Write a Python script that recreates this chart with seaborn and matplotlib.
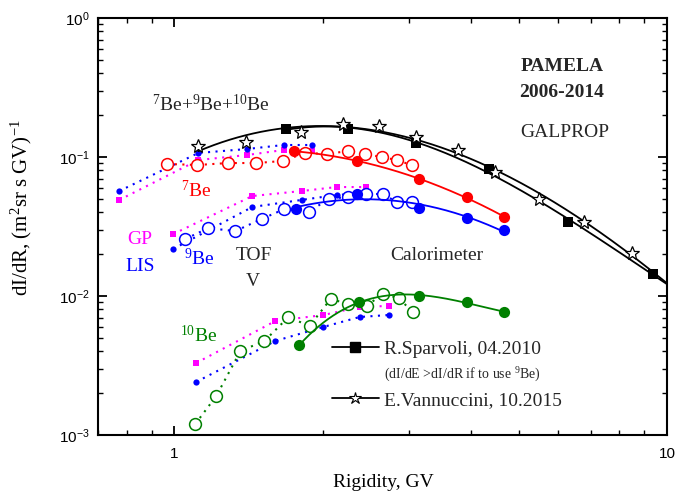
import numpy as np
import matplotlib
matplotlib.use("Agg")
import matplotlib.pyplot as plt
import seaborn as sns
from matplotlib.lines import Line2D
from matplotlib.ticker import LogLocator, NullFormatter, LogFormatterSciNotation

# ---------------- data ----------------
# Total Be flux, two PAMELA analyses
sparvoli_R = [1.689, 2.256, 3.088, 4.346, 6.293, 9.366]
sparvoli_F = [0.159, 0.159, 0.126, 0.0820, 0.0341, 0.0144]
vannuccini_R = [1.119, 1.401, 1.804, 2.195, 2.598, 3.088, 3.760, 4.471, 5.493, 6.783, 8.490]
vannuccini_F = [0.120, 0.128, 0.151, 0.173, 0.167, 0.139, 0.112, 0.078, 0.0499, 0.0341, 0.0204]

# TOF isotope fluxes (open circles)
be7_tof_R = [0.968, 1.114, 1.287, 1.468, 1.658, 1.846, 2.046, 2.247, 2.434, 2.635, 2.827, 3.031]
be7_tof_F = [0.0891, 0.0876, 0.0905, 0.0905, 0.0936, 0.1069, 0.1051, 0.1104, 0.1051, 0.100, 0.0951, 0.0876]
be9_tof_R = [1.053, 1.172, 1.330, 1.503, 1.673, 1.873, 2.056, 2.247, 2.445, 2.647, 2.827, 3.031]
be9_tof_F = [0.0257, 0.0308, 0.0293, 0.0358, 0.0422, 0.0402, 0.0499, 0.0516, 0.0542, 0.0542, 0.0475, 0.0475]
be10_tof_R = [1.103, 1.217, 1.362, 1.524, 1.705, 1.881, 2.076, 2.256, 2.456, 2.647, 2.853, 3.046]
be10_tof_F = [0.00120, 0.00191, 0.00402, 0.00475, 0.00706, 0.00608, 0.00951, 0.00876, 0.00848, 0.01034, 0.00967, 0.00767]

# Calorimeter isotope fluxes (filled circles)
be7_cal_R = [1.746, 2.344, 3.132, 3.922, 4.665]
be7_cal_F = [0.1104, 0.0936, 0.0695, 0.0516, 0.0370]
be9_cal_R = [1.770, 2.344, 3.132, 3.922, 4.665]
be9_cal_F = [0.0422, 0.0542, 0.0430, 0.0364, 0.0298]
be10_cal_R = [1.795, 2.366, 3.132, 3.922, 4.665]
be10_cal_F = [0.00444, 0.00905, 0.0100, 0.00905, 0.00767]

# GALPROP modulated (GP) and local interstellar (LIS) spectra
be7_gp_R = [0.773, 1.119, 1.407, 1.666, 1.899]
be7_gp_F = [0.0491, 0.0951, 0.1034, 0.1123, 0.1104]
be7_lis_F = [0.0569, 0.1069, 0.1142, 0.1220, 0.1220]
be9_gp_R = [0.995, 1.440, 1.812, 2.134, 2.445]
be9_gp_F = [0.0279, 0.0524, 0.0569, 0.0608, 0.0608]
be9_lis_F = [0.0218, 0.0437, 0.0491, 0.0533, 0.0551]
be10_gp_R = [1.108, 1.604, 2.008, 2.377, 2.723]
be10_gp_F = [0.00330, 0.00661, 0.00730, 0.00834, 0.00848]
be10_lis_F = [0.00241, 0.00475, 0.00599, 0.00706, 0.00730]

x_ticks = [1, 10]
x_ticklabels = ["1", "10"]

RED, BLUE, GREEN, MAG, BLACK = "#ff0000", "#0000ff", "#008000", "#ff00ff", "#000000"

# ---------------- style ----------------
sns.set_theme(style="ticks")
plt.rcParams["font.family"] = ["Liberation Serif", "DejaVu Serif"]
plt.rcParams["mathtext.fontset"] = "custom"
plt.rcParams["mathtext.rm"] = "Liberation Serif"
plt.rcParams["mathtext.it"] = "Liberation Serif:italic"
plt.rcParams["mathtext.bf"] = "Liberation Serif:bold"
plt.rcParams["axes.linewidth"] = 1.5

fig = plt.figure(figsize=(6.77, 4.95), dpi=100)
ax = fig.add_axes([98 / 677, 60 / 495, 569 / 677, 417 / 495])
ax.set_xscale("log")
ax.set_yscale("log")

DOT = (0, (1, 2.6))


def fit_curve(R, F, deg, r_end=None, n=300):
    lx, ly = np.log10(R), np.log10(F)
    c = np.polyfit(lx, ly, deg)
    xs = np.linspace(lx.min(), np.log10(r_end) if r_end else lx.max(), n)
    return 10 ** xs, 10 ** np.polyval(c, xs)


def dotted_series(R, F, color, marker, ms, open_marker=False, z=3):
    kw = dict(markerfacecolor="white" if open_marker else color,
              markeredgecolor=color,
              markeredgewidth=1.1 if open_marker else 0)
    sns.lineplot(x=R, y=F, ax=ax, color=color, linestyle=DOT, lw=1.5,
                 marker=marker, markersize=ms, sort=False, estimator=None,
                 zorder=z, **kw)


# GALPROP curves
for R, gp, lis in [(be7_gp_R, be7_gp_F, be7_lis_F),
                   (be9_gp_R, be9_gp_F, be9_lis_F),
                   (be10_gp_R, be10_gp_F, be10_lis_F)]:
    dotted_series(R, gp, MAG, "s", 4, z=2)
    dotted_series(R, lis, BLUE, "o", 4.5, z=2)

# TOF open circles
dotted_series(be7_tof_R, be7_tof_F, RED, "o", 8.5, open_marker=True)
dotted_series(be9_tof_R, be9_tof_F, BLUE, "o", 8.5, open_marker=True)
dotted_series(be10_tof_R, be10_tof_F, GREEN, "o", 8.5, open_marker=True)

# Calorimeter filled circles with smooth trend
for R, F, col, deg in [(be7_cal_R, be7_cal_F, RED, 2),
                       (be9_cal_R, be9_cal_F, BLUE, 2),
                       (be10_cal_R, be10_cal_F, GREEN, 3)]:
    xs, ys = fit_curve(R, F, deg)
    sns.lineplot(x=xs, y=ys, ax=ax, color=col, lw=1.3, sort=False,
                 estimator=None, zorder=3)
    sns.scatterplot(x=R, y=F, ax=ax, color=col, s=65, marker="o",
                    edgecolor=col, linewidth=0, zorder=4)

# Total Be curves
xs, ys = fit_curve(sparvoli_R, sparvoli_F, 3, r_end=10)
sns.lineplot(x=xs, y=ys, ax=ax, color=BLACK, lw=1.3, sort=False,
             estimator=None, zorder=3)
sns.scatterplot(x=sparvoli_R, y=sparvoli_F, ax=ax, color=BLACK, s=50,
                marker="s", edgecolor=BLACK, linewidth=0, zorder=5)
xs, ys = fit_curve(vannuccini_R, vannuccini_F, 3, r_end=10)
sns.lineplot(x=xs, y=ys, ax=ax, color=BLACK, lw=1.3, sort=False,
             estimator=None, zorder=3)
ax.plot(vannuccini_R, vannuccini_F, linestyle="none", marker="*",
        markersize=10, markerfacecolor="white", markeredgecolor=BLACK,
        markeredgewidth=0.9, zorder=5)

# ---------------- axes ----------------
ax.set_xlim(0.7, 10)
ax.set_ylim(1e-3, 1)
ax.set_xticks(x_ticks)
ax.set_xticklabels(x_ticklabels)
ax.xaxis.set_minor_locator(LogLocator(base=10, subs=np.arange(2, 10)))
ax.xaxis.set_minor_formatter(NullFormatter())
ax.yaxis.set_major_locator(LogLocator(base=10))
ax.yaxis.set_major_formatter(LogFormatterSciNotation())
ax.yaxis.set_minor_locator(LogLocator(base=10, subs=np.arange(2, 10)))
ax.yaxis.set_minor_formatter(NullFormatter())
for s in ax.spines.values():
    s.set_visible(True)
    s.set_color("black")
    s.set_linewidth(1.5)
ax.tick_params(which="both", direction="in", top=True, right=True,
               colors="black", labelsize=11, labelfontfamily="Liberation Sans")
ax.tick_params(which="major", length=6.5, width=1.3, pad=9)
ax.tick_params(axis="y", which="major", pad=6)
ax.tick_params(which="minor", length=3.5, width=1.0)
ax.grid(False)

ax.set_xlabel("Rigidity, GV", fontsize=14, color="black")
ax.set_ylabel(r"dI/dR, (m$^{2}$sr s GV)$^{-1}$", fontsize=15, color="black")
ax.xaxis.set_label_coords(0.501, -0.094)
ax.yaxis.set_label_coords(-0.112, 0.545)

# ---------------- annotations ----------------
T = ax.transAxes
ax.text(0.8155, 0.8825, "PAMELA", transform=T, ha="center", va="center",
        fontsize=14, fontweight="bold")
ax.text(0.8155, 0.8225, "2006-2014", transform=T, ha="center", va="center",
        fontsize=14, fontweight="bold")
ax.text(0.8207, 0.7266, "GALPROP", transform=T, ha="center", va="center", fontsize=14)
ax.text(0.1986, 0.7914, r"$^{7}$Be+$^{9}$Be+$^{10}$Be", transform=T,
        ha="center", va="center", fontsize=14)
ax.text(0.1722, 0.5875, r"$^{7}$Be", transform=T, ha="center", va="center",
        fontsize=14, color=RED)
ax.text(0.0738, 0.470, "GP", transform=T, ha="center", va="center",
        fontsize=14, color=MAG)
ax.text(0.0738, 0.4029, "LIS", transform=T, ha="center", va="center",
        fontsize=14, color=BLUE)
ax.text(0.1775, 0.4221, r"$^{9}$Be", transform=T, ha="center", va="center",
        fontsize=14, color=BLUE)
ax.text(0.2742, 0.4293, "TOF", transform=T, ha="center", va="center", fontsize=14)
ax.text(0.2724, 0.3693, "V", transform=T, ha="center", va="center", fontsize=14)
ax.text(0.5958, 0.4293, "Calorimeter", transform=T, ha="center", va="center", fontsize=14)
ax.text(0.1775, 0.2398, r"$^{10}$Be", transform=T, ha="center", va="center",
        fontsize=14, color=GREEN)

# ---------------- legend ----------------
handles = [
    Line2D([], [], color=BLACK, lw=1.3, marker="s", markersize=7,
           markerfacecolor=BLACK, markeredgecolor=BLACK),
    Line2D([], [], linestyle="none"),
    Line2D([], [], color=BLACK, lw=1.3, marker="*", markersize=9,
           markerfacecolor="white", markeredgecolor=BLACK, markeredgewidth=0.8),
]
labels = ["R.Sparvoli, 04.2010",
          r"(dI/dE >dI/dR if to use $^{9}$Be)",
          "E.Vannuccini, 10.2015"]
leg = ax.legend(handles, labels, loc="upper left", bbox_to_anchor=(0.411, 0.228),
                frameon=False, fontsize=14, handlelength=2.4, handletextpad=0.3,
                labelspacing=0.38, borderpad=0, borderaxespad=0)
leg.get_texts()[1].set_fontsize(10)

fig.savefig("out.png", dpi=100)
